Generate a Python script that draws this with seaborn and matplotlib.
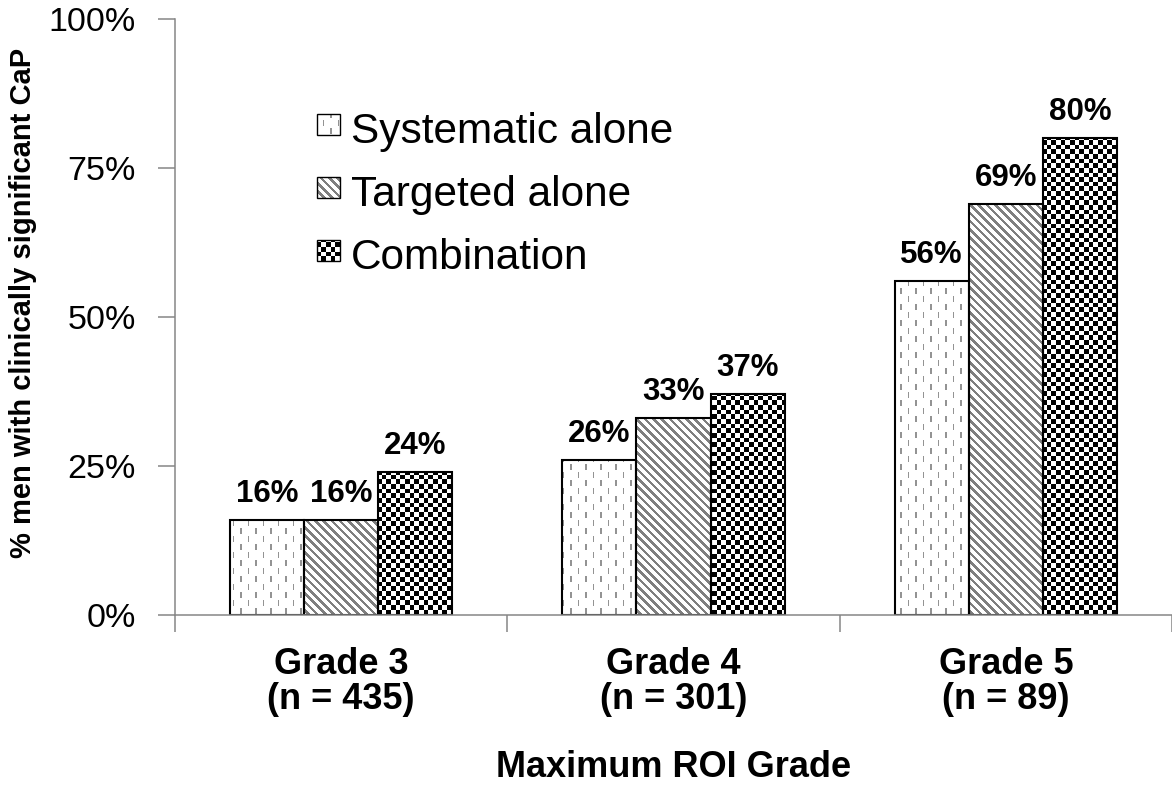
import numpy as np
import pandas as pd
import matplotlib
matplotlib.use("Agg")
import matplotlib.pyplot as plt
from matplotlib.patches import Rectangle
from matplotlib.transforms import IdentityTransform
import seaborn as sns

# ---- data -------------------------------------------------------------
grades = ["Grade 3\n(n = 435)", "Grade 4\n(n = 301)", "Grade 5\n(n = 89)"]
methods = ["Systematic alone", "Targeted alone", "Combination"]
systematic = [16, 26, 56]
targeted = [16, 33, 69]
combination = [24, 37, 80]
y_ticks = [0, 25, 50, 75, 100]
y_tick_labels = ["0%", "25%", "50%", "75%", "100%"]

df = pd.DataFrame({
    "grade": grades * 3,
    "method": [m for m in methods for _ in grades],
    "pct": systematic + targeted + combination,
})

# ---- style ------------------------------------------------------------
sns.set_style("white")
plt.rcParams["font.family"] = ["Liberation Sans", "DejaVu Sans"]
plt.rcParams["text.color"] = "black"
AXIS_GRAY = "#868686"

W, H = 1172, 791
fig = plt.figure(figsize=(W / 100, H / 100), dpi=100, facecolor="white")
ax = fig.add_axes([175 / W, 1 - 615 / H, (W - 175) / W, (615 - 19) / H])
ax.set_facecolor("none")

sns.barplot(data=df, x="grade", y="pct", hue="method", order=grades,
            hue_order=methods, palette=["white"] * 3, width=0.67,
            edgecolor="black", linewidth=1.5, legend=False, ax=ax)
for p in ax.patches:
    p.set_facecolor("none")

ax.set_xlim(-0.5, 2.5)
ax.set_ylim(0, 100)
ax.set_yticks(y_ticks, y_tick_labels)
ax.set_xticks(range(len(grades)), grades, fontsize=26, fontweight="bold",
              linespacing=1.0)
ax.set_xticks(np.arange(-0.5, len(grades)), minor=True)
ax.tick_params(axis="x", which="major", length=0, pad=23, labelcolor="black")
ax.tick_params(axis="x", which="minor", length=12, width=1.1, color=AXIS_GRAY,
               direction="out")
ax.tick_params(axis="y", length=12, width=1.1, color=AXIS_GRAY,
               direction="out", labelsize=24.5, pad=16, labelcolor="black")
ax.tick_params(left=True, bottom=True, which="both")
for side in ["top", "right"]:
    ax.spines[side].set_visible(False)
for side in ["left", "bottom"]:
    ax.spines[side].set_color(AXIS_GRAY)
    ax.spines[side].set_linewidth(1.1)

ax.set_xlabel("Maximum ROI Grade", fontsize=26, fontweight="bold",
              labelpad=24, color="black")
ax.set_ylabel("")
fig.text(23 / W, 1 - 303 / H, "% men with clinically significant CaP",
         rotation=90, ha="center", va="center", fontsize=21,
         fontweight="bold", color="black")

for cont, vals in zip(ax.containers, [systematic, targeted, combination]):
    ax.bar_label(cont, labels=[f"{v}%" for v in vals], padding=8,
                 fontsize=22.5, fontweight="bold", color="black")


# ---- fill patterns (pixel-based) ----------------------------------------
def pattern(kind, cols, rows):
    c, r = np.meshgrid(cols, rows)
    img = np.ones(c.shape + (3,))
    if kind == 0:      # dashed vertical lines
        col_idx = np.floor(c / 7.5).astype(int)
        on = (np.mod(c, 7.5) < 1.2) & (np.mod(r + (col_idx % 2) * 8, 16) < 6)
        img[on] = 0.58
    elif kind == 1:    # diagonal stripes
        on = np.mod(c - r, 8.3) < 3.6
        img[on] = 0.5
    else:              # checkerboard
        on = (np.floor(c / 4.65) + np.floor(r / 4.65)) % 2 == 0
        img[on] = 0.0
    return img


def fill_box(kind, x0, y0, x1, y1):
    x0, y0, x1, y1 = (int(round(v)) for v in (x0, y0, x1, y1))
    cols = np.arange(x0, x1)
    rows = H - 1 - np.arange(y1 - 1, y0 - 1, -1)
    fig.figimage(pattern(kind, cols, rows), xo=x0, yo=y0, origin="upper",
                 zorder=-1)


for kind, cont in enumerate(ax.containers):
    for bar in cont:
        bb = bar.get_window_extent()
        fill_box(kind, bb.x0, bb.y0, bb.x1, bb.y1)

# ---- legend -------------------------------------------------------------
for i, name in enumerate(methods):
    cy = 124.5 + 63 * i
    x0, x1 = 317, 340
    y0, y1 = H - (cy + 10.5), H - (cy - 10.5)
    fill_box(i, x0, y0, x1, y1)
    fig.add_artist(Rectangle((x0, y0), x1 - x0, y1 - y0, fill=False,
                             edgecolor="black", linewidth=1.0,
                             transform=IdentityTransform(), zorder=3))
    fig.text(351 / W, 1 - (143 + 63 * i) / H, name, fontsize=30.5,
             ha="left", va="baseline")

fig.savefig("out.png", dpi=100)
